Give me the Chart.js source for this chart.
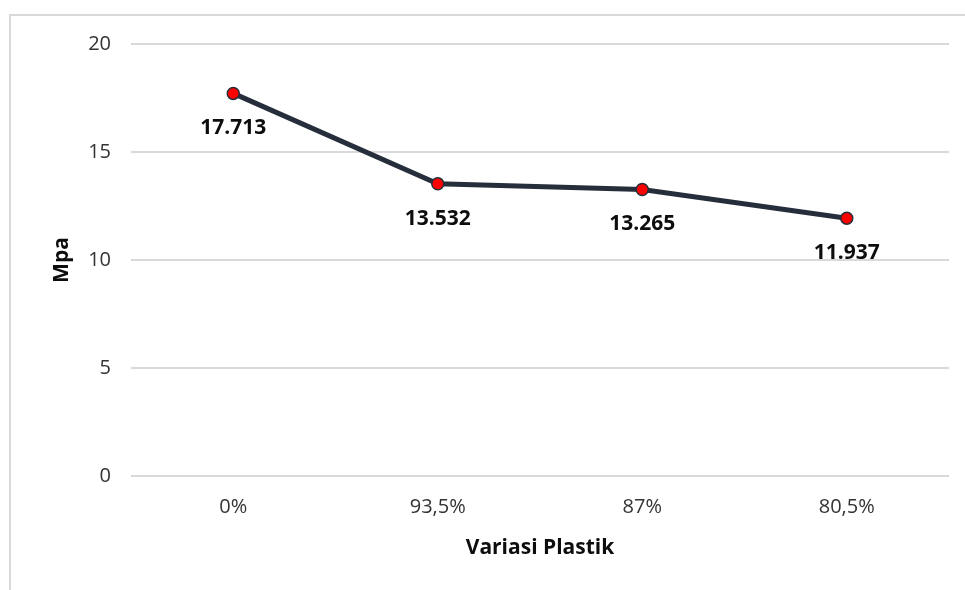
<!DOCTYPE html>
<html>
<head>
<meta charset="utf-8">
<script src="https://cdn.jsdelivr.net/npm/chart.js@4.4.1/dist/chart.umd.min.js"></script>
<style>
  html, body { margin: 0; padding: 0; background: #ffffff; }
  #wrap { position: relative; width: 965px; height: 590px; overflow: hidden; }
  #frame { position: absolute; left: 9px; top: 14px; width: 1000px; height: 700px;
           border-left: 2px solid #d9d9d9; border-top: 2px solid #d9d9d9; }
  canvas { position: absolute; left: 0; top: 0; }
</style>
</head>
<body>
<div id="wrap">
  <div id="frame"></div>
  <canvas id="chart" width="965" height="590"></canvas>
</div>
<script>
const categories = ['0%', '93,5%', '87%', '80,5%'];
const strengthValues = [17.713, 13.532, 13.265, 11.937];
const valueLabels = ['17.713', '13.532', '13.265', '11.937'];
const yTicks = [0, 5, 10, 15, 20];

const FONT = "'Open Sans', 'Liberation Sans', sans-serif";

// Value labels under each point plus both axis titles
const annotate = {
  id: 'annotate',
  afterDatasetsDraw(chart) {
    const ctx = chart.ctx;
    const meta = chart.getDatasetMeta(0);
    ctx.save();
    ctx.fillStyle = '#0d0d0d';
    ctx.font = "bold 21px " + FONT;
    ctx.textAlign = 'center';
    ctx.textBaseline = 'middle';
    meta.data.forEach((pt, i) => {
      ctx.fillText(valueLabels[i], pt.x, pt.y + 35);
    });
    const area = chart.chartArea;
    ctx.font = "bold 21px " + FONT;
    ctx.fillText('Variasi Plastik', (area.left + area.right) / 2, 548);
    ctx.translate(62, (area.top + area.bottom) / 2);
    ctx.rotate(-Math.PI / 2);
    ctx.fillText('Mpa', 0, 0);
    ctx.restore();
  }
};

new Chart(document.getElementById('chart'), {
  type: 'line',
  data: {
    labels: categories,
    datasets: [{
      data: strengthValues,
      borderColor: '#262e3b',
      borderWidth: 5,
      backgroundColor: '#ff0000',
      pointBackgroundColor: '#ff0000',
      pointBorderColor: '#262e3b',
      pointBorderWidth: 1.5,
      pointRadius: 6,
      pointHoverRadius: 6,
      tension: 0,
      fill: false
    }]
  },
  options: {
    responsive: false,
    animation: false,
    events: [],
    layout: { padding: { left: 0, right: 16, top: 44, bottom: 0 } },
    plugins: { legend: { display: false }, tooltip: { enabled: false } },
    scales: {
      x: {
        offset: true,
        grid: { display: false, drawTicks: false },
        border: { display: false },
        ticks: { color: '#333333', font: { family: FONT, size: 20 }, padding: 19 },
        afterFit(scale) { scale.height = 114; }
      },
      y: {
        min: 0,
        max: 20,
        afterBuildTicks(scale) { scale.ticks = yTicks.map(v => ({ value: v })); },
        grid: { color: '#d9d9d9', lineWidth: 2, drawTicks: false },
        border: { display: false },
        ticks: { color: '#333333', font: { family: FONT, size: 20 }, padding: 20 },
        afterFit(scale) { scale.width = 131; }
      }
    }
  },
  plugins: [annotate]
});
</script>
</body>
</html>
